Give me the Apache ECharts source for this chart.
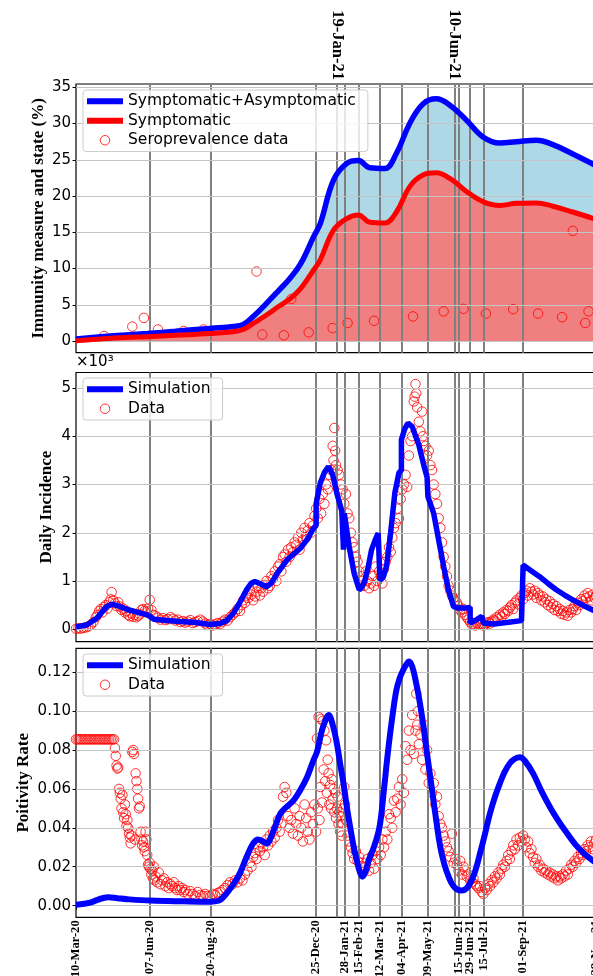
<!DOCTYPE html>
<html><head><meta charset="utf-8">
<script src="https://cdn.jsdelivr.net/npm/echarts/dist/echarts.min.js"></script>
<style>html,body{margin:0;padding:0;background:#fff}#c{width:593px;height:976px}</style>
</head><body><div id="c"></div><script>
// x values are days since 10-Mar-20
const bottomTickDays = [0, 89, 163, 290, 324, 342, 367, 393, 425, 462, 476, 492, 540, 628];
const bottomTickLabels = ['10-Mar-20','07-Jun-20','20-Aug-20','25-Dec-20','28-Jan-21','15-Feb-21','12-Mar-21','04-Apr-21','09-May-21','15-Jun-21','29-Jun-21','15-Jul-21','01-Sep-21','28-Nov-21'];
const topTickDays = [315, 457];
const topTickLabels = ['19-Jan-21', '10-Jun-21'];
const eventLineDays = [89, 163, 290, 315, 324, 342, 367, 393, 425, 457, 462, 476, 492, 540];

const immunityTicks = [0, 5, 10, 15, 20, 25, 30, 35];
const incidenceTicks = [0, 1000, 2000, 3000, 4000, 5000];
const positivityTicks = [0, 0.02, 0.04, 0.06, 0.08, 0.10, 0.12];

// Panel 1: immunity (%)
const totalImmunity = [[0,0.3],[30,0.6],[60,0.85],[86,1.05],[120,1.35],[162,1.75],[190,2.0],[202,2.3],[215,3.5],[230,5.2],[245,7.0],[258,8.6],[271,10.6],[287,14.4],[295,16.2],[311,22.2],[327,24.5],[341,24.9],[355,23.9],[373,23.8],[387,25.9],[403,30.0],[419,32.7],[435,33.4],[452,32.5],[472,30.4],[492,28.1],[512,27.3],[532,27.5],[556,27.7],[576,27.1],[600,25.8],[628,24.2]];
const symptomaticImmunity = [[0,0.05],[30,0.3],[60,0.5],[86,0.6],[120,0.8],[162,1.05],[190,1.3],[202,1.6],[215,2.5],[230,3.6],[245,4.8],[258,5.8],[271,7.2],[287,9.8],[295,11.2],[311,15.3],[327,16.9],[341,17.4],[355,16.4],[373,16.3],[387,17.8],[403,21.3],[419,22.9],[435,23.2],[452,22.4],[472,20.6],[492,19.2],[512,18.7],[532,19.0],[556,19.05],[576,18.6],[600,17.8],[628,16.8]];
const seroprevalence = [[34,0.7],[68,2.0],[82,3.2],[99,1.6],[130,1.4],[154,1.6],[218,9.6],[225,0.9],[251,0.8],[260,5.8],[281,1.2],[310,1.8],[328,2.5],[360,2.8],[407,3.4],[444,4.1],[468,4.45],[495,3.8],[528,4.4],[558,3.8],[587,3.3],[600,15.2],[615,2.5],[619,4.1]];

// Panel 2: daily incidence
const incidenceSim = [[0,50],[13,90],[25,230],[37,470],[43,520],[52,480],[62,410],[75,350],[86,300],[94,210],[110,180],[126,160],[145,140],[162,100],[174,120],[182,180],[190,330],[198,560],[206,820],[212,960],[216,990],[222,950],[230,880],[236,960],[243,1160],[255,1440],[271,1680],[280,1880],[287,2100],[290,2150],[290,2600],[295,3030],[300,3250],[305,3370],[310,3200],[315,2820],[321,2450],[323,1650],[324,2400],[330,1700],[336,1150],[342,820],[345,860],[349,1020],[353,1300],[357,1650],[362,1880],[365,1990],[367,1020],[371,1080],[375,1300],[380,2000],[385,2820],[390,3240],[393,3300],[393,3930],[397,4150],[401,4270],[406,4200],[414,3820],[420,3400],[424,3150],[425,2750],[428,2600],[432,2400],[438,1850],[444,1300],[450,800],[456,470],[462,440],[470,440],[476,450],[476,130],[484,200],[490,270],[492,270],[492,130],[505,110],[520,140],[538,180],[540,180],[540,1330],[550,1210],[560,1090],[570,950],[580,820],[590,710],[600,610],[612,500],[624,400],[628,380]];
const incidenceData = [[0,10],[3,20],[6,15],[9,30],[12,40],[15,60],[18,90],[21,150],[24,250],[26,300],[28,380],[30,420],[32,350],[34,460],[36,500],[38,430],[40,560],[42,620],[43,770],[45,600],[47,540],[49,480],[51,560],[53,470],[55,400],[57,430],[59,350],[61,380],[63,300],[65,270],[67,330],[69,260],[71,300],[73,250],[75,280],[77,310],[79,400],[81,420],[83,380],[85,350],[87,430],[89,610],[91,400],[93,300],[96,280],[99,240],[102,200],[105,230],[108,190],[111,210],[114,250],[117,220],[120,180],[123,200],[126,150],[129,170],[132,140],[135,160],[138,190],[141,130],[144,150],[147,170],[150,200],[153,160],[156,120],[159,90],[162,110],[165,80],[168,100],[171,130],[174,110],[177,160],[180,200],[183,180],[186,250],[189,300],[192,350],[195,420],[198,380],[200,500],[202,600],[204,550],[206,700],[208,650],[210,800],[212,720],[214,600],[216,680],[218,780],[220,900],[222,700],[224,850],[226,780],[228,920],[230,1000],[232,850],[234,900],[236,1100],[238,1050],[240,1200],[242,1000],[244,1300],[246,1350],[248,1200],[250,1500],[252,1550],[254,1400],[256,1650],[258,1500],[260,1700],[262,1600],[264,1800],[266,1750],[268,1900],[270,1650],[272,2000],[274,1850],[276,2100],[278,1900],[280,2050],[282,2200],[284,2000],[286,2150],[288,2350],[290,2500],[292,2300],[294,2700],[296,2400],[298,2800],[300,2600],[302,3000],[304,2900],[306,3200],[308,3300],[310,3800],[311,3500],[312,4170],[313,3700],[314,3400],[316,3300],[318,3200],[320,3000],[322,2900],[324,2600],[326,2800],[328,2400],[330,2300],[332,2000],[334,1800],[336,1700],[338,1500],[340,1400],[342,1200],[344,1100],[346,1000],[348,900],[350,1200],[352,1000],[354,850],[356,950],[358,1100],[360,900],[362,1300],[364,1000],[366,1200],[368,1100],[370,950],[372,1250],[374,1400],[376,1500],[378,1700],[380,1600],[382,1900],[384,2100],[386,2200],[388,2500],[390,2300],[392,2700],[394,2900],[396,3000],[398,3200],[400,2950],[402,3600],[404,3900],[406,4000],[408,4720],[409,4820],[410,5080],[411,4890],[412,4600],[414,4300],[416,4100],[418,4510],[419,4000],[420,3900],[422,3800],[424,3600],[426,3700],[428,3400],[430,3300],[432,3000],[434,2800],[436,2600],[438,2300],[440,2100],[442,1800],[444,1500],[446,1300],[448,1100],[450,900],[452,800],[454,700],[456,650],[458,600],[460,550],[462,480],[464,400],[466,350],[468,420],[470,300],[472,250],[474,200],[476,150],[478,100],[480,120],[482,80],[484,130],[486,100],[488,90],[490,120],[492,80],[494,100],[496,130],[498,150],[500,120],[502,160],[504,200],[506,180],[508,250],[510,220],[512,300],[514,260],[516,350],[518,320],[520,400],[522,380],[524,450],[526,500],[528,420],[530,550],[532,600],[534,520],[536,650],[538,700],[540,620],[542,750],[544,800],[546,700],[548,850],[550,780],[552,720],[554,800],[556,650],[558,750],[560,700],[562,600],[564,680],[566,560],[568,620],[570,500],[572,580],[574,450],[576,520],[578,400],[580,480],[582,380],[584,420],[586,320],[588,380],[590,300],[592,350],[594,280],[596,400],[598,350],[600,420],[602,480],[604,400],[606,550],[608,500],[610,620],[612,580],[614,700],[616,650],[618,750],[620,680],[622,600],[624,720],[626,650],[628,700]];

// Panel 3: positivity rate
const positivitySim = [[0,0.0005],[10,0.001],[17,0.0015],[25,0.0028],[32,0.0038],[39,0.0043],[50,0.0038],[62,0.0033],[90,0.0026],[130,0.0022],[162,0.002],[172,0.0025],[182,0.0064],[190,0.011],[198,0.0167],[206,0.025],[214,0.032],[220,0.034],[226,0.033],[230,0.032],[238,0.038],[247,0.0475],[255,0.051],[263,0.0543],[271,0.0595],[279,0.066],[287,0.075],[291,0.079],[297,0.09],[301,0.095],[305,0.098],[310,0.093],[315,0.0835],[319,0.073],[323,0.063],[327,0.051],[331,0.0406],[335,0.031],[339,0.0235],[343,0.017],[346,0.0149],[350,0.018],[354,0.024],[357,0.027],[362,0.033],[367,0.0415],[372,0.06],[377,0.080],[382,0.097],[387,0.111],[391,0.117],[395,0.121],[399,0.124],[402,0.1255],[406,0.123],[411,0.114],[415,0.105],[419,0.094],[424,0.078],[430,0.0595],[435,0.044],[440,0.030],[445,0.021],[450,0.0149],[455,0.0105],[460,0.0084],[466,0.0078],[472,0.009],[478,0.0132],[483,0.019],[488,0.027],[494,0.037],[500,0.0475],[506,0.056],[512,0.063],[518,0.069],[524,0.0732],[530,0.0755],[536,0.0763],[542,0.0745],[552,0.068],[562,0.059],[572,0.051],[582,0.044],[593,0.0372],[603,0.0315],[613,0.027],[620,0.0245],[628,0.022]];
const positivityData = [[0,0.0855],[2,0.0855],[4,0.0855],[6,0.0855],[8,0.0855],[10,0.0855],[12,0.0855],[14,0.0855],[16,0.0855],[18,0.0855],[20,0.0855],[22,0.0855],[24,0.0855],[26,0.0855],[28,0.0855],[30,0.0855],[32,0.0855],[34,0.0855],[36,0.0855],[38,0.0855],[40,0.0855],[42,0.0855],[44,0.0855],[46,0.0855],[47,0.081],[48,0.077],[49,0.072],[50,0.0705],[51,0.071],[52,0.060],[53,0.058],[54,0.055],[55,0.050],[56,0.057],[57,0.048],[58,0.045],[59,0.052],[60,0.047],[61,0.041],[62,0.044],[63,0.040],[64,0.037],[65,0.035],[66,0.032],[67,0.036],[68,0.079],[69,0.080],[70,0.078],[71,0.034],[72,0.068],[73,0.064],[74,0.060],[75,0.055],[76,0.050],[77,0.051],[78,0.038],[79,0.034],[80,0.031],[81,0.033],[82,0.030],[83,0.028],[84,0.038],[85,0.034],[86,0.026],[87,0.021],[88,0.020],[89,0.022],[90,0.019],[91,0.016],[92,0.018],[93,0.014],[94,0.020],[95,0.013],[96,0.015],[98,0.012],[100,0.017],[102,0.011],[104,0.013],[106,0.014],[108,0.010],[110,0.012],[112,0.009],[114,0.011],[116,0.010],[118,0.012],[120,0.009],[122,0.008],[124,0.010],[126,0.008],[128,0.009],[130,0.007],[132,0.008],[135,0.006],[138,0.0075],[141,0.006],[144,0.005],[147,0.007],[150,0.0055],[153,0.005],[156,0.006],[159,0.005],[162,0.0045],[165,0.006],[168,0.0055],[171,0.0065],[174,0.007],[177,0.008],[180,0.009],[183,0.0105],[186,0.012],[189,0.011],[192,0.013],[195,0.012],[198,0.014],[201,0.013],[204,0.016],[207,0.018],[210,0.022],[212,0.020],[214,0.025],[216,0.027],[218,0.024],[220,0.030],[222,0.028],[224,0.032],[226,0.030],[228,0.026],[230,0.034],[232,0.031],[234,0.036],[236,0.033],[238,0.038],[240,0.035],[242,0.040],[244,0.044],[246,0.038],[248,0.042],[250,0.056],[252,0.061],[254,0.058],[256,0.046],[258,0.040],[260,0.044],[262,0.037],[264,0.050],[266,0.042],[268,0.036],[270,0.046],[272,0.040],[274,0.033],[276,0.052],[278,0.045],[280,0.038],[282,0.034],[284,0.048],[286,0.042],[288,0.052],[290,0.038],[291,0.086],[292,0.050],[293,0.097],[294,0.044],[295,0.061],[296,0.096],[297,0.053],[298,0.095],[299,0.070],[300,0.090],[301,0.064],[302,0.085],[303,0.058],[304,0.075],[305,0.068],[306,0.052],[307,0.062],[308,0.050],[309,0.065],[310,0.055],[311,0.060],[312,0.048],[313,0.058],[314,0.045],[315,0.050],[316,0.056],[317,0.042],[318,0.048],[319,0.038],[320,0.046],[321,0.036],[322,0.042],[323,0.050],[324,0.061],[325,0.052],[326,0.044],[328,0.036],[330,0.033],[332,0.030],[334,0.027],[336,0.024],[338,0.028],[340,0.023],[342,0.025],[344,0.020],[346,0.022],[348,0.018],[350,0.020],[352,0.024],[354,0.018],[356,0.022],[358,0.026],[360,0.019],[362,0.028],[364,0.024],[366,0.030],[368,0.026],[370,0.034],[372,0.030],[374,0.038],[376,0.034],[378,0.047],[380,0.045],[382,0.040],[384,0.054],[386,0.048],[388,0.055],[390,0.061],[392,0.052],[394,0.065],[396,0.058],[398,0.082],[400,0.075],[402,0.090],[404,0.080],[406,0.098],[408,0.078],[410,0.090],[411,0.109],[412,0.093],[413,0.100],[414,0.083],[416,0.088],[418,0.075],[420,0.093],[422,0.070],[424,0.080],[426,0.063],[428,0.068],[430,0.058],[432,0.063],[434,0.052],[436,0.056],[438,0.046],[440,0.042],[442,0.040],[444,0.036],[446,0.033],[448,0.030],[450,0.028],[452,0.025],[454,0.037],[456,0.022],[458,0.024],[460,0.021],[462,0.018],[464,0.023],[466,0.016],[468,0.020],[470,0.018],[472,0.015],[474,0.016],[476,0.013],[478,0.012],[480,0.014],[482,0.011],[484,0.010],[486,0.009],[488,0.010],[490,0.007],[492,0.006],[494,0.009],[496,0.008],[498,0.011],[500,0.010],[502,0.013],[504,0.012],[506,0.015],[508,0.014],[510,0.017],[512,0.016],[514,0.019],[516,0.021],[518,0.020],[520,0.023],[522,0.026],[524,0.024],[526,0.028],[528,0.031],[530,0.029],[532,0.034],[534,0.031],[536,0.035],[538,0.033],[540,0.036],[542,0.034],[544,0.030],[546,0.033],[548,0.027],[550,0.029],[552,0.025],[554,0.022],[556,0.024],[558,0.020],[560,0.021],[562,0.018],[564,0.019],[566,0.017],[568,0.018],[570,0.016],[572,0.017],[574,0.015],[576,0.016],[578,0.014],[580,0.015],[582,0.013],[584,0.015],[586,0.014],[588,0.016],[590,0.015],[592,0.018],[594,0.016],[596,0.019],[598,0.021],[600,0.020],[602,0.023],[604,0.022],[606,0.025],[608,0.024],[610,0.027],[612,0.026],[614,0.029],[616,0.028],[618,0.031],[620,0.030],[622,0.033],[624,0.029],[626,0.032],[628,0.034]];

const BLUE = '#0000ff', RED = '#ff0000', FILL_BLUE = '#add8e6', FILL_RED = '#f08080';
const SANS = 'DejaVu Sans', SERIF = 'Liberation Serif';
const LINE_ICON = 'path://M0,0H36V6H0Z';
const X_MAX = 628;

const grids = [
  {left: 76, top: 84, width: 520, height: 268.7},
  {left: 76, top: 372.5, width: 520, height: 269.2},
  {left: 76, top: 648.3, width: 520, height: 269}
].map(g => Object.assign(g, {show: true, borderColor: '#000', borderWidth: 1.2, backgroundColor: 'transparent', containLabel: false, outerBoundsMode: 'none'}));

function plainX(gi) {
  return {type: 'value', gridIndex: gi, min: 0, max: X_MAX, axisLine: {show: false}, axisTick: {show: false}, axisLabel: {show: false}, splitLine: {show: false}};
}
const labelFor = (days, labels) => v => { const i = days.indexOf(Math.round(v)); return i >= 0 ? labels[i] : ''; };

const xAxes = [
  plainX(0),
  {type: 'value', gridIndex: 0, position: 'top', min: 0, max: X_MAX, axisLine: {show: false}, axisTick: {show: false}, splitLine: {show: false},
   axisLabel: {customValues: topTickDays, rotate: 90, margin: 4, fontFamily: SERIF, fontWeight: 'bold', fontSize: 16.5, color: '#000', formatter: labelFor(topTickDays, topTickLabels)}},
  plainX(1),
  {type: 'value', gridIndex: 2, position: 'bottom', min: 0, max: X_MAX, axisLine: {show: false}, splitLine: {show: false},
   axisTick: {show: true, customValues: bottomTickDays, length: 4, lineStyle: {color: '#000', width: 1}},
   axisLabel: {customValues: bottomTickDays, rotate: 90, margin: 3, fontFamily: SERIF, fontWeight: 'bold', fontSize: 12.6, color: '#000', formatter: labelFor(bottomTickDays, bottomTickLabels)}}
];

function yAx(gi, min, max, ticks, fmt, name, gap) {
  return {type: 'value', gridIndex: gi, min: min, max: max, axisLine: {show: false}, splitLine: {show: false},
    axisTick: {show: true, customValues: ticks, length: 3.5, lineStyle: {color: '#000', width: 1}},
    axisLabel: {customValues: ticks, formatter: fmt, fontFamily: SANS, fontSize: 15, color: '#000', margin: 5},
    name: name, nameLocation: 'middle', nameRotate: 90, nameGap: gap, nameMoveOverlap: false,
    nameTextStyle: {fontFamily: SERIF, fontWeight: 'bold', fontSize: 17, color: '#000'}};
}
const yAxes = [
  yAx(0, -1.6, 35.45, immunityTicks, v => String(Math.round(v)), 'Immunity measure and state (%)', 29),
  yAx(1, -257, 5320, incidenceTicks, v => String(Math.round(v / 1000)), 'Daily Incidence', 21),
  yAx(2, -0.006, 0.1323, positivityTicks, v => v.toFixed(2), 'Poitivity Rate', 44)
];

function guides(gi, hTicks) {
  return {type: 'line', name: 'guides' + gi, xAxisIndex: gi === 0 ? 0 : gi === 1 ? 2 : 3, yAxisIndex: gi, data: [], silent: true,
    markLine: {z: 3, silent: true, animation: false, symbol: ['none', 'none'], label: {show: false}, emphasis: {disabled: true},
      data: eventLineDays.map(d => ({xAxis: d, lineStyle: {color: '#808080', width: 2, type: 'solid', opacity: 1}}))
        .concat(hTicks.map(v => ({yAxis: v, lineStyle: {color: '#c4c4c4', width: 1, type: 'solid', opacity: 1}})))}};
}
function curve(name, xi, yi, data, color, width, smooth) {
  return {type: 'line', name: name, xAxisIndex: xi, yAxisIndex: yi, data: data, color: color, showSymbol: false, symbol: 'none', smooth: smooth, z: 4,
    lineStyle: {color: color, width: width}, itemStyle: {color: color}};
}
function fill(name, data, color) {
  return {type: 'line', name: name, xAxisIndex: 0, yAxisIndex: 0, data: data, showSymbol: false, symbol: 'none', smooth: 0.4, z: 1,
    lineStyle: {width: 0, opacity: 0}, areaStyle: {color: color, opacity: 1, origin: 'auto'}, silent: true};
}
function dots(name, xi, yi, data) {
  return {type: 'scatter', name: name, xAxisIndex: xi, yAxisIndex: yi, data: data, symbol: 'circle', symbolSize: 9.5, z: 1,
    itemStyle: {color: 'rgba(0,0,0,0)', borderColor: RED, borderWidth: 1}};
}

const series = [
  fill('totalFill', totalImmunity, FILL_BLUE),
  fill('sympFill', symptomaticImmunity, FILL_RED),
  dots('Seroprevalence data', 0, 0, seroprevalence),
  guides(0, immunityTicks),
  curve('Symptomatic+Asymptomatic', 0, 0, totalImmunity, BLUE, 5.5, 0.4),
  curve('Symptomatic', 0, 0, symptomaticImmunity, RED, 5, 0.4),
  dots('Data', 2, 1, incidenceData),
  guides(1, incidenceTicks),
  curve('Simulation', 2, 1, incidenceSim, BLUE, 5.5, false),
  dots('Data', 3, 2, positivityData),
  guides(2, positivityTicks),
  curve('Simulation', 3, 2, positivitySim, BLUE, 6, 0.4)
];

const lineItem = (name, color) => ({name: name, icon: LINE_ICON, itemStyle: {color: color}});
const dotItem = name => ({name: name, icon: 'circle', itemStyle: {color: 'rgba(0,0,0,0)', borderColor: RED, borderWidth: 1}});
function legendAt(top, data) {
  return {show: true, orient: 'vertical', left: 83, top: top, padding: [2, 12, 2, 4], itemWidth: 36, itemHeight: 9.5, itemGap: 1, itemTextGap: 10,
    selectedMode: false, backgroundColor: 'rgba(255,255,255,0.8)', borderColor: '#cccccc', borderWidth: 1, borderRadius: 3,
    textStyle: {fontFamily: SANS, fontSize: 15.5, color: '#000', lineHeight: 18.5}, data: data};
}

const chart = echarts.init(document.getElementById('c'), null, {renderer: 'canvas'});
chart.setOption({
  animation: false,
  backgroundColor: '#fff',
  title: {text: '×10³', left: 76, top: 355, padding: 0, textStyle: {fontFamily: SANS, fontWeight: 'normal', fontSize: 15, color: '#000'}},
  grid: grids,
  xAxis: xAxes,
  yAxis: yAxes,
  legend: [
    legendAt(90, [lineItem('Symptomatic+Asymptomatic', BLUE), lineItem('Symptomatic', RED), dotItem('Seroprevalence data')]),
    legendAt(378, [lineItem('Simulation', BLUE), dotItem('Data')]),
    legendAt(654, [lineItem('Simulation', BLUE), dotItem('Data')])
  ],
  series: series
});
</script></body></html>
